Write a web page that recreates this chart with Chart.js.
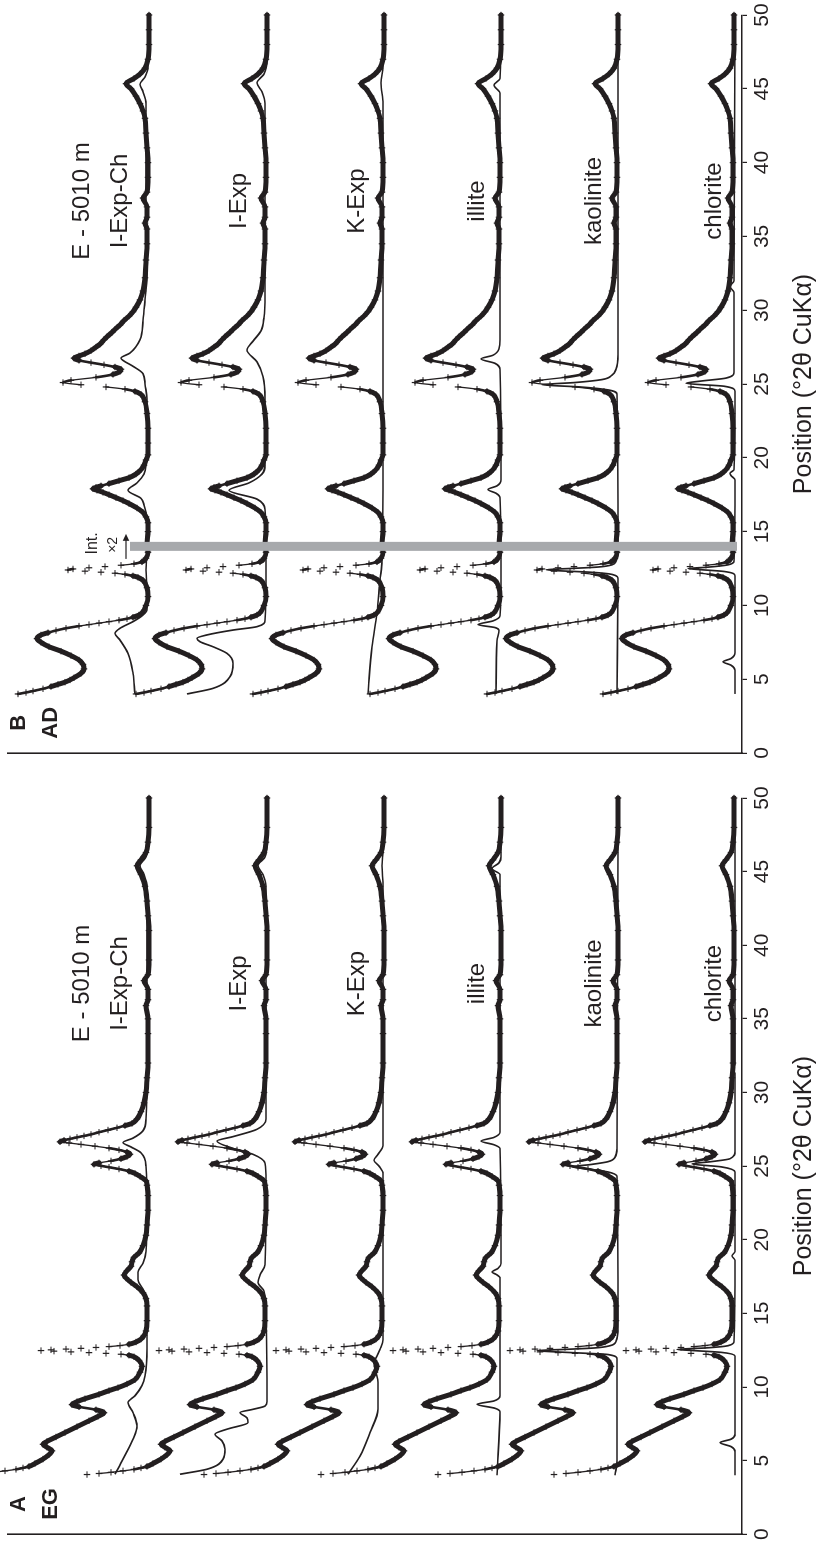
<!DOCTYPE html>
<html>
<head>
<meta charset="utf-8">
<script src="https://cdn.jsdelivr.net/npm/chart.js@4.4.1/dist/chart.umd.min.js"></script>
<style>
  html, body { margin: 0; padding: 0; background: #fff; overflow: hidden; }
  /* The figure is laid out landscape and turned a quarter turn counter-clockwise. */
  #figure { position: absolute; left: 0; top: 0; width: 1543px; height: 819px;
            transform-origin: 0 0; transform: translateY(1543px) rotate(-90deg); }
  #figure canvas { position: absolute; top: 0; }
</style>
</head>
<body>
<div id="figure">
  <canvas id="panelEG" width="773" height="819" style="left:0px"></canvas>
  <canvas id="panelAD" width="770" height="819" style="left:773px"></canvas>
</div>
<script>
// ---------------------------------------------------------------------------
// Sample E - 5010 m, XRD of the clay fraction, °2θ CuKα
// ---------------------------------------------------------------------------
const tickValues = [0, 5, 10, 15, 20, 25, 30, 35, 40, 45, 50];
const rowNames = ['I-Exp-Ch', 'I-Exp', 'K-Exp', 'illite', 'kaolinite', 'chlorite'];
// vertical shift of each stacked row (intensity units)
const rowShift = [591, 473, 356, 239, 122, 6];

// Experimental pattern, ethylene-glycol solvated (EG)
const twoThetaEG = [4.05,4.12,4.2,4.3,4.4,4.5,4.6,4.8,5.1,5.4,5.66,5.9,6.1,6.3,6.6,6.9,7.3,7.7,8.0,8.25,
  8.45,8.65,8.8,9.0,9.2,9.5,9.75,9.95,10.2,10.5,11.0,11.4,11.8,12.05,12.15,12.22,12.28,12.33,12.38,12.43,
  12.47,12.52,12.57,12.62,12.68,12.74,12.81,12.9,13.05,13.25,13.5,13.8,14.5,15.5,16.0,16.4,16.8,17.1,17.4,17.6,
  17.9,18.2,18.5,18.8,19.1,19.6,20.3,21.0,22.0,23.0,23.7,24.0,24.3,24.5,24.65,24.8,24.92,25.02,25.12,25.22,
  25.35,25.5,25.65,25.8,25.95,26.1,26.22,26.35,26.47,26.57,26.65,26.75,26.85,26.95,27.05,27.15,27.3,27.45,27.6,27.75,
  27.9,28.2,28.7,29.3,30.0,31.0,32.0,34.0,35.0,35.9,36.3,37.0,37.6,38.0,39.0,41.0,42.0,43.0,44.0,44.8,
  45.4,45.8,46.3,47.0,48.0,50.0];
const countsEG = [182,170,158,146,135,128,122,116,108,102,99,104,108,104,95,86,74,62,53,47,
  55,72,79,74,66,52,42,33,24,16,11,9,12,17,22,30,45,62,80,97,
  110,100,85,70,55,42,31,22,15,10,7,5,4,4,5,8,14,20,25,27,
  24,20,19,17,12,8,5,4,3,3,4,5,11,16,22,32,42,50,57,52,
  40,30,24,21,24,32,42,56,70,82,91,87,81,74,67,60,52,43,34,26,
  19,14,10,7,5,4,3,3,3,5,3,3,7,3,2,2,3,4,6,10,
  14,10,5,3,2,2];

// Experimental pattern, air-dried (AD); intensities above 14 °2θ multiplied by 2
const twoThetaAD = [4.0,4.1,4.2,4.35,4.5,4.65,4.8,4.95,5.1,5.4,5.7,6.0,6.3,6.6,6.9,7.2,7.5,7.75,8.0,8.15,
  8.3,8.45,8.6,8.7,8.8,8.9,9.0,9.1,9.2,9.35,9.5,10.0,10.6,11.2,11.7,11.9,12.0,12.1,12.18,12.25,
  12.32,12.4,12.47,12.55,12.63,12.72,12.82,12.95,13.2,13.6,14.2,15.0,15.6,16.0,16.3,16.6,16.9,17.1,17.3,17.5,
  17.66,17.8,17.9,18.0,18.1,18.25,18.45,18.65,18.9,19.2,19.5,19.85,20.2,21.0,22.0,23.0,23.8,24.3,24.5,24.65,
  24.8,24.95,25.1,25.25,25.45,25.65,25.85,26.0,26.15,26.3,26.45,26.6,26.75,26.9,27.05,27.26,27.5,27.7,28.0,28.2,
  28.5,28.7,29.0,29.3,29.6,29.9,30.2,30.7,31.3,32.2,33.4,34.5,35.5,35.9,36.3,37.0,37.6,38.0,39.0,40.0,
  41.0,42.0,43.0,43.5,44.0,44.5,45.0,45.35,45.7,46.0,46.4,47.0,48.0,49.0,50.0];
const countsAD = [133,125,118,108,100,93,86,81,77,70,67,68,72,80,90,102,110,114,110,103,
  95,85,72,62,52,42,32,24,18,12,9,5,3,4,8,13,18,26,36,50,
  66,83,78,62,46,30,17,9,5,3,4,3,3,5,8,14,22,28,35,42,
  48,54,58,55,50,42,32,22,15,10,7,5,3,3,3,4,6,10,16,26,
  45,70,88,80,55,38,31,30,36,47,60,72,77,72,66,60,55,51,47,44,
  39,36,31,27,22,18,15,11,8,6,5,4,4,6,4,4,8,4,3,3,
  4,5,6,8,11,15,20,25,17,11,6,3,2,2,2];

// Calculated contributions of each phase, EG: [°2θ, intensity]
const iExpChEG = [[4.07,36],[5.1,28],[6.45,18],[7.35,14],[8.26,18],[8.94,23],[9.4,16],[10.1,9],[10.75,6],[12.6,4],[15,4],[16.5,7],[17.3,13],[17.8,13],[18.4,8],[19.2,5],[22,4],[25,5],[25.9,10],[26.3,20],[26.6,28],[26.9,18],[27.4,8],[28.2,5],[32,4],[44,4],[44.8,7],[45.4,11],[46,5],[47,3],[50,3]];
const iExpEG = [[4.07,89],[4.41,62],[5.09,46],[5.77,44],[6.33,47],[6.79,54],[7.13,42],[7.58,21],[7.9,22],[8.26,29],[8.48,16],[8.7,4],[9,2],[15,3],[16.5,5],[17.1,11],[17.6,9],[18.3,4],[24,3],[25.2,4],[25.8,16],[26.2,36],[26.7,52],[27.0,36],[27.5,12],[28.2,3],[44,3],[44.8,6],[45.4,11],[46,4],[47,2],[50,2]];
const kExpEG = [[4.07,38],[5.3,26],[6.9,16],[8.5,8],[10.3,8],[11.0,10],[11.6,12],[12.1,9],[12.55,6],[13.2,3],[20,3],[24.5,3],[25.0,7],[25.4,12],[25.8,8],[26.4,3],[44,3],[45.4,4],[46.5,3],[50,3]];
const illiteEG = [[4.0,6],[8.3,3],[8.55,8],[8.82,26],[9.05,9],[9.4,3],[17.4,3],[17.65,7],[17.8,11],[18.05,5],[18.4,2],[26.2,3],[26.45,9],[26.7,22],[26.95,9],[27.3,3],[44.8,3],[45.2,11],[45.6,4],[46,2],[50,2]];
const kaoliniteEG = [[4.0,5],[5,3],[11.9,3],[12.2,12],[12.32,45],[12.42,75],[12.47,83],[12.55,55],[12.65,25],[12.8,10],[13.1,4],[14,2],[24.3,3],[24.6,12],[24.8,32],[24.95,48],[25.1,30],[25.3,12],[25.6,5],[26.2,3],[50,2]];
const chloriteEG = [[4.0,1],[5.6,1],[5.95,5],[6.22,16],[6.45,5],[6.8,1],[12.1,1],[12.35,15],[12.48,45],[12.55,59],[12.65,30],[12.8,8],[13.1,2],[18.6,1],[18.9,4],[19.2,1],[24.6,1],[24.95,15],[25.15,44],[25.3,25],[25.5,6],[26,1],[31.3,1],[31.6,4],[31.9,1],[50,1]];

// Calculated contributions of each phase, AD: [°2θ, intensity]
const iExpChAD = [[4.0,16],[5.4,18],[6.75,23],[7.65,31],[8.1,36],[8.45,31],[8.9,18],[9.35,8],[9.7,4],[11,4],[12.4,5],[14,4],[15.8,4],[16.8,7],[17.25,10],[17.8,23],[18.3,14],[18.9,7],[19.5,5],[22,4],[24,4],[25,6],[25.7,8],[26.2,18],[26.6,28],[26.75,30],[27.1,21],[28,11],[29.3,8],[30.7,6],[32.3,4],[37.6,5],[44,5],[44.8,8],[45.3,11],[45.8,6],[46.5,3],[50,3]];
const iExpAD = [[4.0,82],[4.38,56],[5.17,39],[6.07,36],[6.75,42],[7.2,56],[7.54,69],[7.77,72],[8.0,62],[8.33,36],[8.56,12],[9.0,4],[12,3],[14,3],[16.5,4],[17.2,12],[17.8,40],[18.3,20],[18.9,7],[19.5,4],[24,4],[25.5,6],[26.5,12],[27.3,22],[27.9,16],[28.6,8],[29.5,5],[31,4],[44,4],[44.8,7],[45.4,12],[46,5],[47,2],[50,2]];
const kExpAD = [[4.0,18],[7.2,14],[9.46,9],[11.7,6],[13,4],[20,3],[44,3],[45.4,5],[46.5,3],[50,3]];
const illiteAD = [[4.0,7],[7.6,6],[8.3,4],[8.5,8],[8.7,25],[8.95,10],[9.3,3],[12,2],[17.3,3],[17.6,7],[17.85,15],[18.1,6],[18.5,2],[26,3],[26.4,8],[26.7,22],[26.95,10],[27.4,4],[28,3],[44.7,3],[45.25,9],[45.7,3],[50,2]];
const kaoliniteAD = [[4.0,3],[11.8,2],[12.1,8],[12.25,30],[12.35,62],[12.42,74],[12.5,50],[12.6,22],[12.75,8],[13,4],[13.5,2],[24.3,3],[24.6,12],[24.8,40],[24.95,78],[25.1,45],[25.3,18],[25.6,8],[26,4],[27,2],[50,2]];
const chloriteAD = [[4.0,1],[5.6,1],[5.95,5],[6.18,13],[6.4,5],[6.8,1],[12,1],[12.3,12],[12.42,35],[12.5,48],[12.58,30],[12.75,8],[13,2],[18.5,1],[18.8,5],[18.95,6],[19.2,2],[24.5,1],[24.85,12],[25.05,50],[25.2,35],[25.4,10],[25.8,2],[31.2,2],[31.6,6],[32,2],[50,1]];

// position where the AD intensity scale doubles
const doublingAt = 14;

// ---------------------------------------------------------------------------
const INK = '#231f20';
const BAR = '#a7a9ac';
const FONT = "'Liberation Sans', Arial, Helvetica, sans-serif";

function steepness(ctx) {
  const dx = Math.abs(ctx.p1.x - ctx.p0.x);
  const dy = Math.abs(ctx.p1.y - ctx.p0.y);
  return dy / Math.max(dx, 0.01);
}

// measured points: crosses, joined by a heavy stroke where the pattern is not too steep
function measured(theta, counts, shift) {
  return {
    data: theta.map((t, i) => ({ x: t, y: counts[i] + shift })),
    showLine: true,
    borderColor: INK,
    borderWidth: 5,
    borderCapStyle: 'round',
    borderJoinStyle: 'round',
    cubicInterpolationMode: 'monotone',
    pointStyle: 'cross',
    pointRadius: 3.2,
    pointBorderWidth: 1.2,
    pointBorderColor: INK,
    pointBackgroundColor: INK,
    segment: {
      borderColor: ctx => steepness(ctx) > 11 ? 'rgba(0,0,0,0)' : INK,
      borderWidth: ctx => {
        const s = steepness(ctx);
        return s > 6 ? 1.3 : s > 3.5 ? 2.6 : 5;
      }
    },
    clip: false,
    order: 2
  };
}

function calculated(pairs, shift) {
  return {
    data: pairs.map(p => ({ x: p[0], y: p[1] + shift })),
    showLine: true,
    borderColor: INK,
    borderWidth: 1.7,
    pointRadius: 0,
    cubicInterpolationMode: 'monotone',
    clip: false,
    order: 1
  };
}

const annotate = {
  id: 'annotate',
  afterDatasetsDraw(chart, args, opts) {
    const { ctx, scales: { x, y } } = chart;
    ctx.save();
    ctx.fillStyle = INK;
    ctx.strokeStyle = INK;
    ctx.textBaseline = 'alphabetic';
    for (const t of opts.texts) {
      ctx.font = t.font;
      ctx.textAlign = 'center';
      ctx.fillText(t.text, x.getPixelForValue(t.x), y.getPixelForValue(t.y));
    }
    if (opts.arrow) {
      const a = opts.arrow;
      const x0 = x.getPixelForValue(a.from), x1 = x.getPixelForValue(a.to);
      const yy = y.getPixelForValue(a.y);
      ctx.lineWidth = 1.2;
      ctx.beginPath();
      ctx.moveTo(x0, yy);
      ctx.lineTo(x1 - 5, yy);
      ctx.stroke();
      ctx.beginPath();
      ctx.moveTo(x1, yy);
      ctx.lineTo(x1 - 7, yy - 3.2);
      ctx.lineTo(x1 - 7, yy + 3.2);
      ctx.closePath();
      ctx.fill();
    }
    ctx.restore();
  }
};

function rowLabels() {
  const lift = [615, 496, 378, 258, 141, 21];
  const out = [{ text: 'E - 5010 m', x: 37.4, y: 653, font: '24px ' + FONT }];
  rowNames.forEach((n, i) => out.push({ text: n, x: 37.4, y: lift[i], font: '24px ' + FONT }));
  return out;
}

function buildPanel(canvasId, theta, counts, calcs, letter, treatment, padLeft, padRight, withBar) {
  const datasets = [];
  rowShift.forEach((s, i) => {
    datasets.push(measured(theta, counts, s));
    datasets.push(calculated(calcs[i], s));
  });
  const texts = [
    { text: letter, x: 2.05, y: 717, font: 'bold 22px ' + FONT },
    { text: treatment, x: 2.05, y: 685, font: 'bold 22px ' + FONT }
  ].concat(rowLabels());
  let arrow = null;
  if (withBar) {
    datasets.push({
      data: [{ x: doublingAt, y: rowShift[0] + 21 }, { x: doublingAt, y: rowShift[5] - 1 }],
      showLine: true, borderColor: BAR, borderWidth: 9, borderCapStyle: 'butt',
      pointRadius: 0, tension: 0, clip: false, order: 0
    });
    texts.push({ text: 'Int.', x: doublingAt + 0.2, y: 645, font: '16px ' + FONT });
    texts.push({ text: '×2', x: doublingAt + 0.1, y: 625, font: '14px ' + FONT });
    arrow = { from: doublingAt - 0.85, to: doublingAt + 0.85, y: 616 };
  }
  return new Chart(document.getElementById(canvasId), {
    type: 'scatter',
    data: { datasets },
    plugins: [annotate],
    options: {
      responsive: false,
      animation: false,
      events: [],
      layout: { padding: { left: padLeft, right: padRight, top: 8, bottom: 0 } },
      plugins: {
        legend: { display: false },
        tooltip: { enabled: false },
        annotate: { texts, arrow }
      },
      scales: {
        x: {
          type: 'linear', position: 'bottom', min: 0, max: 50,
          afterBuildTicks: s => { s.ticks = tickValues.map(v => ({ value: v })); },
          ticks: { autoSkip: false, maxRotation: 0, minRotation: 0, color: INK,
                   font: { family: FONT, size: 21 }, padding: 3 },
          grid: { drawOnChartArea: false, drawTicks: true, tickLength: 5, color: INK, lineWidth: 1.2 },
          border: { display: true, color: INK, width: 1.6 },
          title: { display: true, text: 'Position (°2θ CuKα)', color: INK,
                   font: { family: FONT, size: 25 }, padding: { top: 0, bottom: 0 } },
          afterFit: s => { s.height = 77; }
        },
        y: {
          type: 'linear', position: 'left', min: 0, max: 734,
          ticks: { display: false },
          grid: { display: false, drawTicks: false },
          border: { display: true, color: INK, width: 1.6 },
          afterFit: s => { s.width = 0; }
        }
      }
    }
  });
}

buildPanel('panelEG', twoThetaEG, countsEG,
  [iExpChEG, iExpEG, kExpEG, illiteEG, kaoliniteEG, chloriteEG], 'A', 'EG', 8, 28, false);
buildPanel('panelAD', twoThetaAD, countsAD,
  [iExpChAD, iExpAD, kExpAD, illiteAD, kaoliniteAD, chloriteAD], 'B', 'AD', 17, 15, true);
</script>
</body>
</html>
